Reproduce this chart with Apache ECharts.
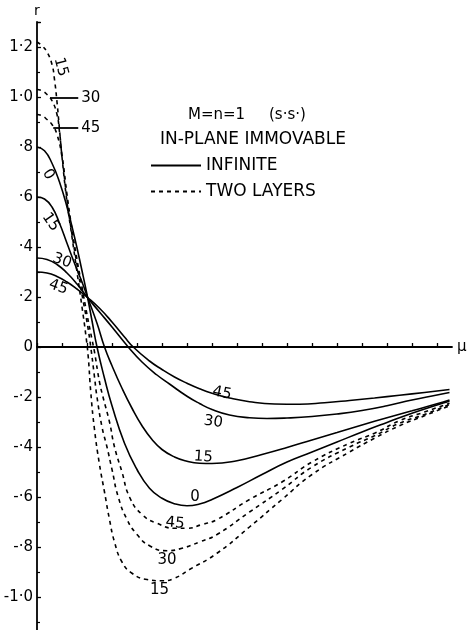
<!DOCTYPE html>
<html>
<head>
<meta charset="utf-8">
<title>r against mu</title>
<script src="https://cdn.jsdelivr.net/npm/echarts@6/dist/echarts.min.js"></script>
<style>
  html, body { margin: 0; padding: 0; background: #fff; }
  #chart { width: 467px; height: 630px; }
</style>
</head>
<body>
<div id="chart"></div>
<script>
// solid curves: infinite, one per angle, points are [mu, r]
var inf0 = [[0,0.80],[0.03,0.785],[0.06,0.735],[0.09,0.66],[0.12,0.56],[0.15,0.44],[0.18,0.305],[0.20,0.21],[0.22,0.105],[0.24,0.0],[0.27,-0.125],[0.30,-0.235],[0.35,-0.385],[0.40,-0.49],[0.45,-0.565],[0.50,-0.605],[0.55,-0.627],[0.60,-0.635],[0.65,-0.628],[0.70,-0.61],[0.80,-0.562],[0.90,-0.51],[1.0,-0.46],[1.1,-0.42],[1.2,-0.38],[1.3,-0.34],[1.4,-0.302],[1.5,-0.265],[1.6,-0.232],[1.65,-0.217]];
var inf15 = [[0,0.60],[0.03,0.592],[0.06,0.56],[0.09,0.495],[0.12,0.415],[0.15,0.335],[0.18,0.26],[0.20,0.205],[0.24,0.095],[0.27,0.0],[0.30,-0.075],[0.34,-0.165],[0.38,-0.245],[0.42,-0.315],[0.46,-0.37],[0.50,-0.41],[0.55,-0.44],[0.60,-0.457],[0.65,-0.465],[0.70,-0.466],[0.80,-0.455],[0.90,-0.43],[1.0,-0.402],[1.1,-0.372],[1.2,-0.342],[1.3,-0.312],[1.4,-0.283],[1.5,-0.255],[1.6,-0.227],[1.65,-0.212]];
var inf30 = [[0,0.356],[0.04,0.35],[0.08,0.33],[0.12,0.296],[0.16,0.252],[0.20,0.20],[0.25,0.14],[0.30,0.08],[0.365,0.0],[0.42,-0.06],[0.48,-0.112],[0.53,-0.148],[0.60,-0.197],[0.65,-0.226],[0.70,-0.25],[0.77,-0.272],[0.85,-0.283],[0.92,-0.286],[1.0,-0.284],[1.1,-0.278],[1.2,-0.268],[1.3,-0.254],[1.4,-0.235],[1.5,-0.212],[1.6,-0.192],[1.65,-0.182]];
var inf45 = [[0,0.30],[0.04,0.296],[0.08,0.282],[0.12,0.26],[0.16,0.232],[0.20,0.20],[0.25,0.155],[0.30,0.10],[0.35,0.04],[0.385,0.0],[0.45,-0.056],[0.50,-0.09],[0.55,-0.12],[0.60,-0.145],[0.65,-0.167],[0.70,-0.185],[0.77,-0.204],[0.85,-0.219],[0.95,-0.228],[1.05,-0.229],[1.15,-0.223],[1.25,-0.214],[1.35,-0.204],[1.45,-0.193],[1.55,-0.182],[1.65,-0.17]];

// dashed curves: two layers
var two15 = [[0,1.22],[0.02,1.205],[0.04,1.18],[0.06,1.13],[0.07,1.07],[0.08,0.98],[0.09,0.87],[0.10,0.76],[0.12,0.58],[0.14,0.44],[0.16,0.30],[0.18,0.16],[0.195,0.05],[0.205,-0.04],[0.215,-0.18],[0.23,-0.33],[0.25,-0.47],[0.27,-0.58],[0.29,-0.69],[0.31,-0.78],[0.34,-0.86],[0.38,-0.905],[0.44,-0.93],[0.50,-0.935],[0.55,-0.925],[0.61,-0.89],[0.72,-0.825],[0.85,-0.72],[0.98,-0.61],[1.1,-0.51],[1.25,-0.42],[1.35,-0.365],[1.45,-0.315],[1.55,-0.275],[1.65,-0.235]];
var two30 = [[0,1.03],[0.02,1.025],[0.04,1.01],[0.06,0.985],[0.08,0.93],[0.09,0.86],[0.10,0.77],[0.12,0.59],[0.14,0.45],[0.16,0.33],[0.18,0.21],[0.20,0.10],[0.215,0.0],[0.23,-0.12],[0.24,-0.2],[0.26,-0.32],[0.28,-0.4],[0.30,-0.49],[0.325,-0.6],[0.36,-0.69],[0.40,-0.75],[0.45,-0.795],[0.52,-0.815],[0.58,-0.805],[0.65,-0.78],[0.72,-0.75],[0.85,-0.66],[0.98,-0.57],[1.1,-0.48],[1.25,-0.40],[1.35,-0.355],[1.45,-0.305],[1.55,-0.27],[1.65,-0.23]];
var two45 = [[0,0.93],[0.02,0.925],[0.04,0.91],[0.06,0.89],[0.08,0.85],[0.10,0.76],[0.12,0.61],[0.14,0.47],[0.16,0.35],[0.18,0.24],[0.20,0.13],[0.22,0.03],[0.23,-0.02],[0.25,-0.14],[0.264,-0.2],[0.29,-0.3],[0.31,-0.4],[0.34,-0.5],[0.37,-0.6],[0.42,-0.67],[0.48,-0.705],[0.55,-0.725],[0.60,-0.725],[0.66,-0.71],[0.72,-0.69],[0.85,-0.61],[0.98,-0.54],[1.1,-0.46],[1.25,-0.385],[1.35,-0.345],[1.45,-0.295],[1.55,-0.26],[1.65,-0.225]];

// tick labels
var yTickValues = [1.2, 1.0, 0.8, 0.6, 0.4, 0.2, 0, -0.2, -0.4, -0.6, -0.8, -1.0];
var yTickLabels = ['1·2', '1·0', '·8', '·6', '·4', '·2', '0', '-·2', '-·4', '-·6', '-·8', '-1·0'];
var xTickValues = [0.5, 1.0, 1.5];
var xTickLabels = ['·5', '·1·0', '·1·5'];

// angle tags written next to the curves: [curve, text, mu, r, rotate]
var tags = [
    ['inf0', '0', 0.045, 0.69, -60],
    ['inf15', '15', 0.055, 0.50, -55],
    ['inf30', '30', 0.10, 0.345, -20],
    ['inf45', '45', 0.085, 0.24, -20],
    ['two15', '15', 0.095, 1.12, -75],
    ['inf45', '45', 0.74, -0.185, -12],
    ['inf30', '30', 0.705, -0.30, -8],
    ['inf15', '15', 0.665, -0.44, -4],
    ['inf0', '0', 0.632, -0.60, 0],
    ['two45', '45', 0.552, -0.705, -5],
    ['two30', '30', 0.52, -0.852, 0],
    ['two15', '15', 0.49, -0.972, 0]
];
// leader lines for the top of the dashed curves: [curve, text, mu from, mu to, r]
var leaders = [
    ['two30', '30', 0.052, 0.165, 0.996],
    ['two45', '45', 0.065, 0.165, 0.876]
];

var curves = {inf0: inf0, inf15: inf15, inf30: inf30, inf45: inf45, two15: two15, two30: two30, two45: two45};
var FONT = 'DejaVu Sans';

function pickLabel(values, labels, v) {
    for (var i = 0; i < values.length; i++) {
        if (Math.abs(values[i] - v) < 1e-6) return labels[i];
    }
    return '';
}

var chart = echarts.init(document.getElementById('chart'));
var series = [];
Object.keys(curves).forEach(function (key) {
    var dashed = key.indexOf('two') === 0;
    var marks = tags.filter(function (t) { return t[0] === key; }).map(function (t) {
        return {
            coord: [t[2], t[3]],
            name: t[1],
            label: {rotate: t[4]}
        };
    });
    var lines = leaders.filter(function (l) { return l[0] === key; }).map(function (l) {
        return [{coord: [l[2], l[4]], label: {formatter: l[1]}}, {coord: [l[3], l[4]]}];
    });
    series.push({
        name: dashed ? 'TWO LAYERS' : 'INFINITE',
        type: 'line',
        data: curves[key],
        symbol: 'none',
        smooth: 0.5,
        lineStyle: {color: '#000', width: 1.6, type: dashed ? [4, 4] : 'solid'},
        itemStyle: {color: '#000'},
        markPoint: {
            symbol: 'rect',
            symbolSize: 1,
            itemStyle: {color: 'rgba(0,0,0,0)'},
            label: {show: true, position: 'inside', formatter: '{b}', color: '#000', fontFamily: FONT, fontSize: 15},
            data: marks
        },
        markLine: lines.length ? {
            silent: true,
            symbol: ['none', 'none'],
            lineStyle: {color: '#000', width: 1.8, type: 'solid'},
            label: {show: true, position: 'end', distance: 3, color: '#000', fontFamily: FONT, fontSize: 15},
            data: lines
        } : undefined
    });
});

var option = {
    backgroundColor: '#fff',
    animation: false,
    title: [{
        text: 'M=n=1     (s·s·)',
        left: 188,
        top: 108,
        padding: 0,
        textStyle: {color: '#000', fontFamily: FONT, fontWeight: 'normal', fontSize: 15}
    }, {
        text: 'IN-PLANE IMMOVABLE',
        left: 160,
        top: 131,
        padding: 0,
        textStyle: {color: '#000', fontFamily: FONT, fontWeight: 'normal', fontSize: 17}
    }],
    legend: {
        data: ['INFINITE', 'TWO LAYERS'],
        orient: 'vertical',
        left: 150,
        top: 157,
        padding: 0,
        itemWidth: 50,
        itemHeight: 16,
        itemGap: 9,
        itemStyle: {opacity: 0},
        textStyle: {color: '#000', fontFamily: FONT, fontSize: 17}
    },
    grid: {left: 37, top: 22, width: 415, height: 625, containLabel: false, outerBoundsMode: 'none'},
    xAxis: {
        type: 'value',
        min: 0,
        max: 1.66,
        interval: 0.1,
        name: 'μ',
        nameLocation: 'end',
        nameGap: 5,
        nameTextStyle: {color: '#000', fontFamily: FONT, fontSize: 15},
        axisLine: {onZero: true, lineStyle: {color: '#000', width: 1.8}},
        axisTick: {show: true, inside: true, length: 4, lineStyle: {color: '#000', width: 1.3}},
        splitLine: {show: false},
        axisLabel: {
            color: '#000', fontFamily: FONT, fontSize: 15, margin: 6, showMaxLabel: false,
            formatter: function (v) { return pickLabel(xTickValues, xTickLabels, v); }
        }
    },
    yAxis: {
        type: 'value',
        min: -1.2,
        max: 1.3,
        interval: 0.2,
        name: 'r',
        nameLocation: 'end',
        nameGap: 4,
        nameTextStyle: {color: '#000', fontFamily: FONT, fontSize: 14, align: 'center'},
        axisLine: {onZero: false, lineStyle: {color: '#000', width: 1.8}},
        axisTick: {show: true, inside: true, length: 4, lineStyle: {color: '#000', width: 1.3}},
        minorTick: {show: true, splitNumber: 2, length: 3, lineStyle: {color: '#000', width: 1.2}},
        splitLine: {show: false},
        axisLabel: {
            color: '#000', fontFamily: FONT, fontSize: 15, margin: 4, showMaxLabel: false,
            formatter: function (v) { return pickLabel(yTickValues, yTickLabels, v); }
        }
    },
    series: series
};

chart.setOption(option);
</script>
</body>
</html>
